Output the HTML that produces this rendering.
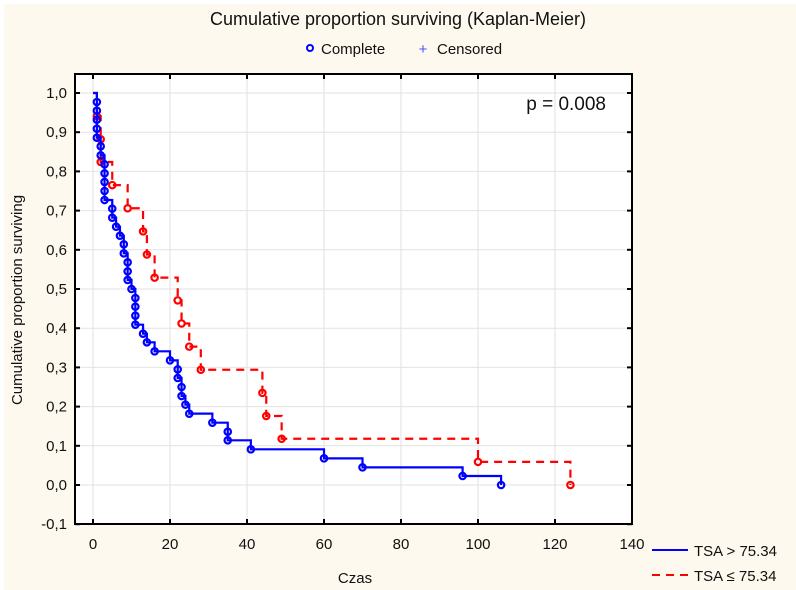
<!DOCTYPE html>
<html><head><meta charset="utf-8"><style>
body{margin:0;background:#fff}
svg{display:block;font-family:"Liberation Sans",sans-serif}
</style></head><body>
<svg width="796" height="590" viewBox="0 0 796 590">
<rect x="4" y="4" width="792" height="586" fill="#fdf9ee"/>
<text x="398" y="25" font-size="18" text-anchor="middle" fill="#111" textLength="376" lengthAdjust="spacingAndGlyphs">Cumulative proportion surviving (Kaplan-Meier)</text>
<g>
<circle cx="310" cy="48" r="3" fill="none" stroke="#0000ff" stroke-width="2"/>
<text x="321" y="54" font-size="15" fill="#111">Complete</text>
<text x="423" y="54" font-size="15" fill="#5050ff" text-anchor="middle">+</text>
<text x="437" y="54" font-size="15" fill="#111">Censored</text>
</g>
<rect x="75" y="74" width="557" height="450" fill="#fff"/>
<g id="grid"></g>
<g id="series"></g>
<rect x="75" y="74" width="557" height="450" fill="none" stroke="#000" stroke-width="2"/>
<g id="ticks"></g>
<text x="606" y="110" font-size="19" fill="#111" text-anchor="end">p = 0.008</text>
<text transform="translate(22,300) rotate(-90)" font-size="15" text-anchor="middle" fill="#111">Cumulative proportion surviving</text>
<text x="355" y="583" font-size="15" text-anchor="middle" fill="#111">Czas</text>
<g>
<line x1="652" y1="550" x2="688" y2="550" stroke="#0000ff" stroke-width="2"/>
<text x="694" y="556" font-size="15" fill="#111">TSA &gt; 75.34</text>
<line x1="652" y1="575" x2="688" y2="575" stroke="#ff0000" stroke-width="2" stroke-dasharray="8,6"/>
<text x="694" y="581" font-size="15" fill="#111">TSA ≤ 75.34</text>
</g>
</svg>
<script>
const xTicks=[0,20,40,60,80,100,120,140];
const yTicks=[-0.1,0,0.1,0.2,0.3,0.4,0.5,0.6,0.7,0.8,0.9,1.0];
const blueTimes=[1,1,1,1,1,2,2,3,3,3,3,3,5,5,6,7,8,8,9,9,9,10,11,11,11,11,13,14,16,20,22,22,23,23,24,25,31,35,35,41,60,70,96,106];
const blueValues=[0.977,0.955,0.932,0.909,0.886,0.864,0.841,0.818,0.795,0.773,0.750,0.727,0.705,0.682,0.659,0.636,0.614,0.591,0.568,0.545,0.523,0.500,0.477,0.455,0.432,0.409,0.386,0.364,0.341,0.318,0.295,0.273,0.250,0.227,0.205,0.182,0.159,0.136,0.114,0.091,0.068,0.045,0.023,0.0];
const redTimes=[1,2,2,5,9,13,14,16,22,23,25,28,44,45,49,100,124];
const redValues=[0.941,0.882,0.824,0.765,0.706,0.647,0.588,0.529,0.471,0.412,0.353,0.294,0.235,0.176,0.118,0.059,0.0];
const NS='http://www.w3.org/2000/svg';
const X=t=>93+t*(539/140);
const Y=v=>485-v*392;
function mk(tag,attrs,parent){const e=document.createElementNS(NS,tag);for(const k in attrs)e.setAttribute(k,attrs[k]);parent.appendChild(e);return e;}
const grid=document.getElementById('grid'),ticks=document.getElementById('ticks'),series=document.getElementById('series');
xTicks.forEach(t=>{
 const g=mk('line',{x1:X(t),x2:X(t),y1:74,y2:524,stroke:'#e2e2e2','stroke-width':1},grid);
 
 
 [[524,519],[74,79]].forEach(p=>{const l=mk('line',{x1:X(t),x2:X(t),y1:p[0],y2:p[1],stroke:'#000','stroke-width':2},ticks);
  
  });
 const tx=mk('text',{x:X(t),y:549,'font-size':15,'text-anchor':'middle',fill:'#111'},ticks);
 
 
 tx.textContent=t;
});
yTicks.forEach(v=>{
 const g=mk('line',{x1:75,x2:632,y1:Y(v),y2:Y(v),stroke:'#e2e2e2','stroke-width':1},grid);
 
 
 [[75,80],[632,627]].forEach(p=>{const l=mk('line',{x1:p[0],x2:p[1],y1:Y(v),y2:Y(v),stroke:'#000','stroke-width':2},ticks);
  
  });
 const tx=mk('text',{x:67,y:Y(v)+5,'font-size':15,'text-anchor':'end',fill:'#111'},ticks);
 
 
 tx.textContent=v.toFixed(1).replace('.',',');
});
function drawSeries(times,vals,color,dash,name){
 let d='M'+X(0)+','+Y(1);
 times.forEach((t,i)=>{d+=' H'+X(t)+' V'+Y(vals[i]);});
 const p=mk('path',{d:d,fill:'none',stroke:color,'stroke-width':2.2,'stroke-dasharray':dash},series);
 
 
 times.forEach((t,i)=>{const c=mk('circle',{cx:X(t),cy:Y(vals[i]),r:3.2,fill:'none',stroke:color,'stroke-width':2.2},series);
  
  });
}
drawSeries(redTimes,redValues,'#ff0000','8,6','red-series');
drawSeries(blueTimes,blueValues,'#0000ff','none','blue-series');
</script>
</body></html>
